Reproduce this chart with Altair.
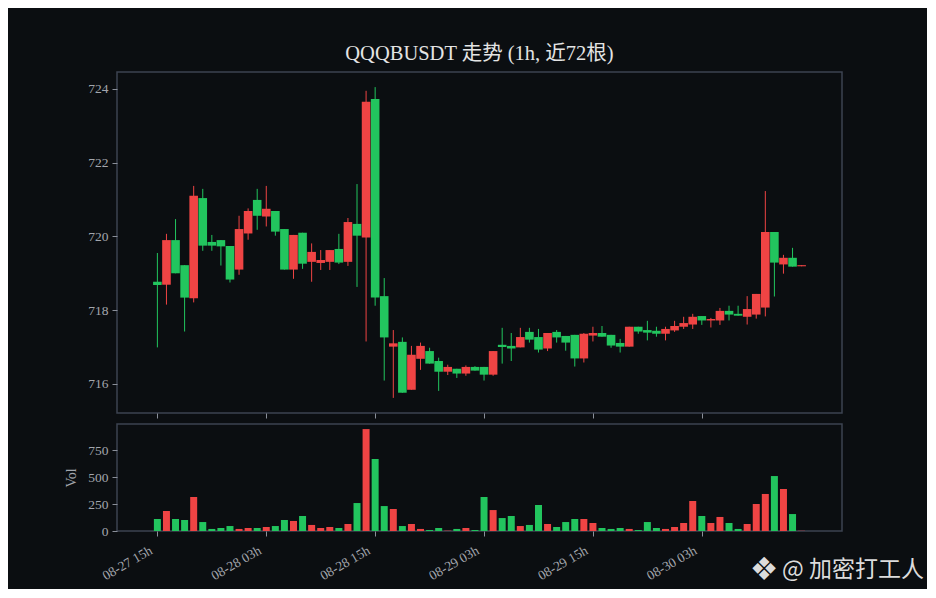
import altair as alt
import pandas as pd

# ---------------- data ----------------
opens = [718.77, 718.69, 719.90, 719.22, 718.32, 721.04, 719.85, 719.90, 719.74, 719.10,
         720.08, 720.99, 720.54, 720.69, 720.20, 719.10, 720.10, 719.31, 719.28, 719.31,
         719.66, 719.31, 720.34, 719.97, 723.73, 718.38, 717.01, 717.14, 715.84, 716.68,
         716.89, 716.62, 716.33, 716.41, 716.28, 716.46, 716.46, 716.25, 717.06, 717.03,
         716.99, 717.41, 717.27, 716.96, 717.41, 717.30, 717.33, 716.69, 717.31, 717.38,
         717.33, 717.11, 717.01, 717.55, 717.46, 717.44, 717.36, 717.45, 717.55, 717.61,
         717.84, 717.72, 717.72, 717.98, 717.90, 717.82, 717.88, 718.07, 720.12, 719.24,
         719.42, 719.19]
closes = [718.68, 719.90, 719.00, 718.34, 721.10, 719.75, 719.75, 719.73, 718.83, 720.20,
          720.69, 720.56, 720.75, 720.13, 719.10, 720.04, 719.26, 719.58, 719.36, 719.63,
          719.29, 720.39, 720.02, 723.65, 718.34, 717.26, 717.10, 715.76, 716.79, 717.03,
          716.55, 716.33, 716.46, 716.28, 716.46, 716.36, 716.25, 716.89, 717.00, 716.96,
          717.27, 717.20, 716.93, 717.38, 717.26, 717.12, 716.69, 717.36, 717.38, 717.28,
          717.04, 717.01, 717.55, 717.42, 717.39, 717.36, 717.49, 717.57, 717.65, 717.82,
          717.72, 717.76, 717.98, 717.88, 717.85, 718.03, 718.44, 720.12, 719.29, 719.42,
          719.18, 719.22]
highs = [719.55, 720.07, 720.47, 719.22, 721.37, 721.29, 720.04, 719.90, 719.74, 720.56,
         720.76, 721.29, 721.37, 720.69, 720.20, 720.04, 720.10, 719.81, 719.63, 719.63,
         720.07, 720.50, 721.42, 723.95, 724.05, 718.87, 717.46, 717.26, 717.03, 717.12,
         716.98, 716.71, 716.52, 716.41, 716.50, 716.48, 716.46, 716.89, 717.52, 717.38,
         717.52, 717.52, 717.49, 717.38, 717.46, 717.30, 717.33, 717.38, 717.55, 717.57,
         717.33, 717.22, 717.55, 717.55, 717.71, 717.55, 717.55, 717.71, 717.82, 717.90,
         717.84, 717.79, 718.06, 718.12, 718.12, 718.38, 718.44, 721.23, 720.12, 719.50,
         719.69, 719.22]
lows = [716.99, 718.15, 719.00, 717.42, 718.21, 719.61, 719.61, 719.21, 718.75, 718.96,
        719.91, 720.18, 720.27, 720.02, 719.10, 718.85, 719.12, 718.77, 719.09, 719.09,
        719.25, 719.20, 718.63, 717.15, 718.12, 716.09, 715.62, 715.76, 715.84, 716.38,
        716.55, 715.81, 716.24, 716.16, 716.22, 716.36, 716.09, 716.22, 716.55, 716.62,
        716.99, 717.12, 716.85, 716.89, 717.12, 716.90, 716.47, 716.58, 717.15, 717.28,
        716.98, 716.85, 717.01, 717.36, 717.18, 717.28, 717.18, 717.41, 717.49, 717.49,
        717.60, 717.53, 717.60, 717.72, 717.85, 717.61, 717.77, 717.83, 718.37, 718.99,
        719.18, 719.19]
vols = [111, 185, 111, 102, 315, 83, 19, 28, 46, 19,
        28, 28, 37, 46, 102, 93, 139, 56, 28, 37,
        28, 65, 259, 944, 667, 231, 204, 46, 65, 19,
        9, 28, 3, 19, 28, 9, 315, 194, 120, 139,
        46, 56, 241, 65, 37, 83, 111, 111, 74, 28,
        19, 28, 19, 9, 83, 28, 19, 37, 74, 278,
        139, 74, 130, 74, 19, 65, 250, 343, 509, 389,
        157, 2]
tick_idx = [0, 12, 24, 36, 48, 60]
tick_labels = ["08-27 15h", "08-28 03h", "08-28 15h", "08-29 03h", "08-29 15h", "08-30 03h"]
price_ticks = [716, 718, 720, 722, 724]
vol_ticks = [0, 250, 500, 750]
title_text = "QQQBUSDT 走势 (1h, 近72根)"
watermark = "@ 加密打工人"
logo = "❖"

# ---------------- styling ----------------
BG = "#0b0e11"
FRAME = "#3d4350"
TXT = "#a3a6ad"
RED = "#ef4444"
GREEN = "#22c55e"
SERIF = "Liberation Serif, Noto Sans CJK SC, serif"

df = pd.DataFrame({
    "i": list(range(len(opens))),
    "open": opens, "close": closes, "high": highs, "low": lows, "vol": vols,
})
df["lo"] = df[["open", "close"]].min(axis=1)
df["hi"] = df[["open", "close"]].max(axis=1)
df["dir"] = ["up" if c >= o else "down" for o, c in zip(opens, closes)]

label_expr = "[" + ",".join(f"'{l}'" for l in tick_labels) + "][indexof([" + \
    ",".join(str(v) for v in tick_idx) + "], datum.value)]"

xscale = alt.Scale(domain=[-3.9, 74.9], nice=False, zero=False)
color = alt.Color("dir:N", scale=alt.Scale(domain=["up", "down"], range=[RED, GREEN]), legend=None)

x_top = alt.X("i:Q", scale=xscale,
              axis=alt.Axis(values=tick_idx, labels=False, title="", tickSize=5))
x_bot = alt.X("i:Q", scale=xscale,
              axis=alt.Axis(values=tick_idx, labelExpr=label_expr, title="", tickSize=5,
                            labelAngle=-30, labelAlign="right", labelBaseline="top",
                            labelPadding=7, labelOffset=-10))

base = alt.Chart(df)

wicks = base.mark_rule(strokeWidth=1).encode(
    x=x_top,
    y=alt.Y("low:Q", scale=alt.Scale(domain=[715.21, 724.46], nice=False, zero=False),
            axis=alt.Axis(values=price_ticks, title="", tickSize=5, labelPadding=4)),
    y2="high:Q",
    color=color,
)
bodies = base.mark_bar(size=8.6).encode(
    x=x_top,
    y=alt.Y("lo:Q"),
    y2="hi:Q",
    color=color,
)
price = alt.layer(wicks, bodies).properties(
    width=725, height=341,
    title=alt.TitleParams(title_text, fontSize=20.5, color="#e4e4e4", font=SERIF,
                          fontWeight="normal", anchor="middle", frame="group", offset=8),
)

vbars = base.mark_bar(size=7).encode(
    x=x_bot,
    y=alt.Y("vol:Q", scale=alt.Scale(domain=[0, 991], nice=False),
            axis=alt.Axis(values=vol_ticks, title="Vol", tickSize=5, labelPadding=4,
                          titlePadding=9)),
    color=color,
)
wm_logo = alt.Chart(pd.DataFrame({"t": [logo]})).mark_text(
    fontSize=32, color="#dcdcdc", font="DejaVu Sans", align="center", baseline="middle"
).encode(x=alt.value(647), y=alt.value(146), text="t:N")
wm_text = alt.Chart(pd.DataFrame({"t": [watermark]})).mark_text(
    fontSize=23, color="#dcdcdc", font="Noto Sans CJK SC", align="left", baseline="middle"
).encode(x=alt.value(665), y=alt.value(146), text="t:N")

volume = alt.layer(vbars, wm_logo, wm_text).properties(width=725, height=107)

chart = alt.vconcat(price, volume, spacing=3).properties(
    background=BG,
    padding={"left": 56, "top": 34, "right": 2, "bottom": 2},
).configure_view(
    stroke=FRAME, strokeWidth=1.5,
).configure_axis(
    domain=False, grid=False, tickColor="#8a8f99", tickWidth=1,
    labelColor=TXT, labelFont=SERIF, labelFontSize=13.5,
    titleColor=TXT, titleFont=SERIF, titleFontSize=14, titleFontWeight="normal",
)

chart.save("out.html", embed_options={"renderer": "svg", "actions": False})
